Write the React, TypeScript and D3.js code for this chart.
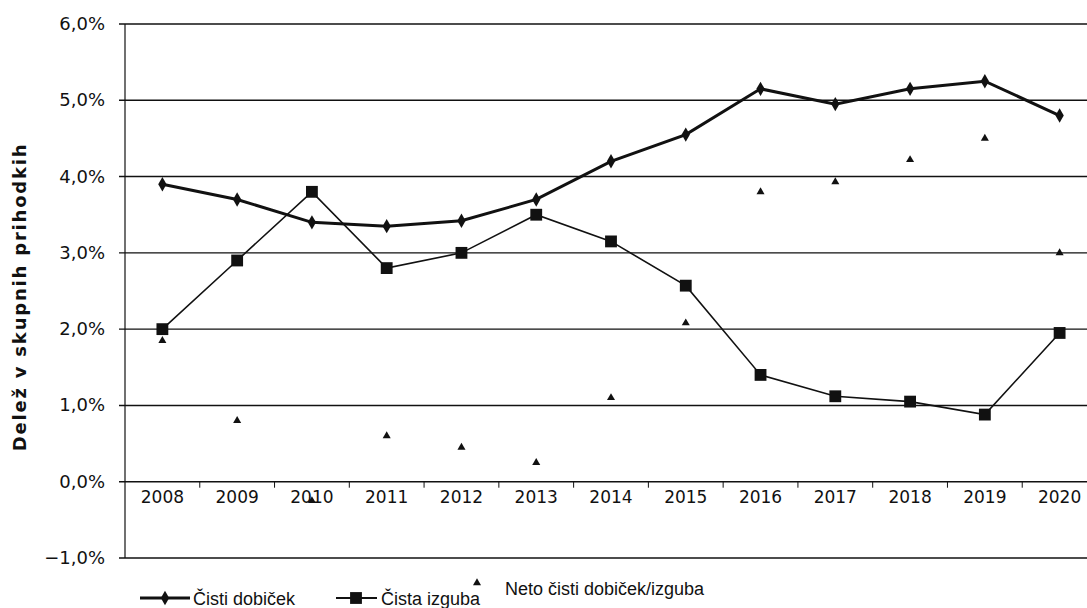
import React, { useEffect, useRef } from 'react'
import * as d3 from 'd3'

const years = ['2008','2009','2010','2011','2012','2013','2014','2015','2016','2017','2018','2019','2020']
const cistiDobicek = [3.9, 3.7, 3.4, 3.35, 3.42, 3.7, 4.2, 4.55, 5.15, 4.95, 5.15, 5.25, 4.8]
const cistaIzguba = [2.0, 2.9, 3.8, 2.8, 3.0, 3.5, 3.15, 2.57, 1.4, 1.12, 1.05, 0.88, 1.95]
const netoDobicek = [1.85, 0.8, -0.25, 0.6, 0.45, 0.25, 1.1, 2.08, 3.8, 3.93, 4.22, 4.5, 3.0]
const yTicks = [-1, 0, 1, 2, 3, 4, 5, 6]
const yTitle = 'Delež v skupnih prihodkih'
const legendNames = ['Čisti dobiček', 'Čista izguba', 'Neto čisti dobiček/izguba']

function App(){
  const svgRef = useRef<SVGSVGElement>(null)
  const W = 1087, H = 608
  const left = 125, right = 1097, top = 24, bottom = 558

  useEffect(()=>{
    const svg = d3.select(svgRef.current)
    svg.selectAll('*').remove()

    const x = d3.scaleBand().domain(years).range([left, right])
    const y = d3.scaleLinear().domain([-1, 6]).range([bottom, top])
    const cx = (d: string) => (x(d) as number) + x.bandwidth() / 2

    // gridlines
    svg.append('g').selectAll('line').data(yTicks).join('line')
      .attr('x1', left - 6).attr('x2', W)
      .attr('y1', d => y(d)).attr('y2', d => y(d))
      .attr('stroke', '#111').attr('stroke-width', 1.4)

    // y axis line
    svg.append('line')
      .attr('x1', left).attr('x2', left)
      .attr('y1', y(6)).attr('y2', y(-1))
      .attr('stroke', '#111').attr('stroke-width', 1.2)

    // y labels
    svg.append('g').selectAll('text').data(yTicks).join('text')
      .attr('x', left - 20).attr('y', d => y(d) + 6)
      .attr('text-anchor', 'end')
      .attr('font-family', 'DejaVu Sans, Verdana, sans-serif')
      .attr('font-size', 18)
      .attr('fill', '#111')
      .text(d => d3.format('.1f')(d).replace('.', ',') + '%')

    // y title
    svg.append('text')
      .attr('transform', `translate(26,${(top + bottom) / 2 + 6}) rotate(-90)`)
      .attr('text-anchor', 'middle')
      .attr('font-family', 'DejaVu Sans, Verdana, sans-serif')
      .attr('font-weight', 'bold')
      .attr('font-size', 18)
      .attr('letter-spacing', 1.8)
      .attr('fill', '#111')
      .text(yTitle)

    // x ticks at zero line
    svg.append('g').selectAll('line').data(years.slice(1)).join('line')
      .attr('x1', d => x(d) as number).attr('x2', d => x(d) as number)
      .attr('y1', y(0)).attr('y2', y(0) + 6)
      .attr('stroke', '#111').attr('stroke-width', 1)

    // x labels
    svg.append('g').selectAll('text').data(years).join('text')
      .attr('x', d => cx(d)).attr('y', y(0) + 21)
      .attr('text-anchor', 'middle')
      .attr('font-family', 'DejaVu Sans, Verdana, sans-serif')
      .attr('font-size', 17)
      .attr('fill', '#111')
      .text(d => d)

    const line = d3.line<number>()
      .x((d, i) => cx(years[i]))
      .y(d => y(d))

    svg.append('path').datum(cistiDobicek)
      .attr('fill', 'none').attr('stroke', '#111').attr('stroke-width', 3).attr('d', line)
    svg.append('path').datum(cistaIzguba)
      .attr('fill', 'none').attr('stroke', '#111').attr('stroke-width', 1.6).attr('d', line)

    const diamond = d3.symbol(d3.symbolDiamond, 60)
    const square = d3.symbol(d3.symbolSquare, 140)
    const tri = d3.symbol(d3.symbolTriangle, 28)

    svg.append('g').selectAll('path').data(cistiDobicek).join('path')
      .attr('transform', (d, i) => `translate(${cx(years[i])},${y(d)})`)
      .attr('d', diamond).attr('fill', '#111')
    svg.append('g').selectAll('path').data(cistaIzguba).join('path')
      .attr('transform', (d, i) => `translate(${cx(years[i])},${y(d)})`)
      .attr('d', square).attr('fill', '#111')
    svg.append('g').selectAll('path').data(netoDobicek).join('path')
      .attr('transform', (d, i) => `translate(${cx(years[i])},${y(d)})`)
      .attr('d', tri).attr('fill', '#111')

    // legend
    const lg = svg.append('g').attr('font-family', 'Liberation Sans Narrow, Arial Narrow, Liberation Sans, sans-serif')
      .attr('font-size', 18).attr('fill', '#111')
    const ly = 598
    lg.append('line').attr('x1', 140).attr('x2', 190).attr('y1', ly).attr('y2', ly)
      .attr('stroke', '#111').attr('stroke-width', 3)
    lg.append('path').attr('transform', `translate(165,${ly})`).attr('d', diamond).attr('fill', '#111')
    lg.append('text').attr('x', 193).attr('y', ly + 7).text(legendNames[0])

    lg.append('line').attr('x1', 336).attr('x2', 377).attr('y1', ly).attr('y2', ly)
      .attr('stroke', '#111').attr('stroke-width', 2)
    lg.append('path').attr('transform', `translate(356,${ly})`).attr('d', square).attr('fill', '#111')
    lg.append('text').attr('x', 381).attr('y', ly + 7).text(legendNames[1])

    lg.append('path').attr('transform', `translate(477,583)`).attr('d', tri).attr('fill', '#111')
    lg.append('text').attr('x', 505).attr('y', 595).text(legendNames[2])
  }, [])

  return (
    <svg ref={svgRef} width={W} height={H}
      style={{ position: 'absolute', left: 0, top: 0, background: '#fff' }} />
  )
}
export default App
